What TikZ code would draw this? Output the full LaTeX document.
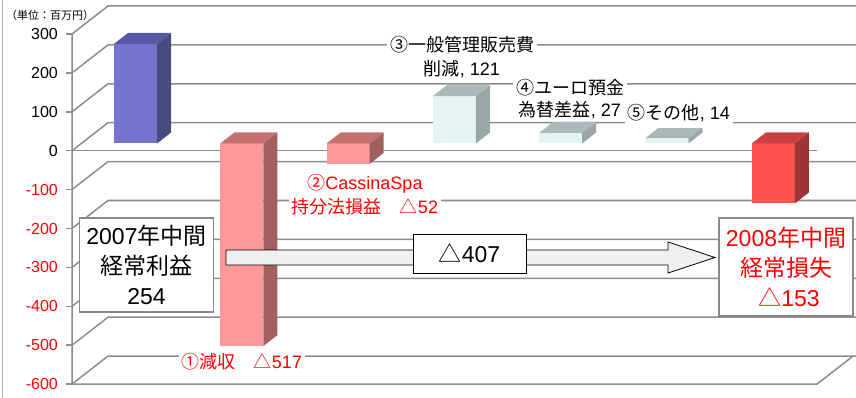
\documentclass[tikz,border=0pt]{standalone}
\usepackage{fontspec}
\setmainfont{Liberation Sans}
\newfontfamily\cjk{Noto Sans CJK JP}
\usetikzlibrary{calc}
\definecolor{gridgray}{HTML}{8C8C8C}
\definecolor{boxgray}{HTML}{8A8A8A}
\definecolor{arrowgray}{HTML}{F0F0F0}
\definecolor{blF}{HTML}{7474CF}
\definecolor{blS}{HTML}{4A4A80}
\definecolor{blT}{HTML}{5757A3}
\definecolor{pkF}{HTML}{FF9999}
\definecolor{pkS}{HTML}{A06060}
\definecolor{pkT}{HTML}{C47070}
\definecolor{cyF}{HTML}{E4F4F4}
\definecolor{cyS}{HTML}{98A8A8}
\definecolor{cyT}{HTML}{ABB9B9}
\definecolor{rdF}{HTML}{FF5050}
\definecolor{rdS}{HTML}{A03333}
\definecolor{rdT}{HTML}{C94040}
\tikzset{
  grid line/.style={draw=gridgray, line width=1.5pt},
  bar label/.style={fill=white, inner xsep=3pt, inner ysep=2pt, align=center},
  total box/.style={draw=boxgray, line width=1.2pt, fill=white, align=center,
    minimum width=134pt, inner sep=0pt, font=\fontsize{23}{30}\selectfont},
  block arrow/.style={draw=black, line width=0.8pt, fill=arrowgray},
}
\begin{document}
\begin{tikzpicture}[x=1pt,y=-1pt]
  \useasboundingbox (0,0) rectangle (856,398);
  \draw[gray!60, line width=1pt] (2,0) -- (2,398);
  % walls and value axis
  \foreach \k in {0,...,9} {
    \pgfmathsetmacro\fy{34+38.9*\k}
    \pgfmathsetmacro\by{\fy-28}
    \pgfmathtruncatemacro\v{300-100*\k}
    \draw[grid line] (72,\fy) -- (108,\by) -- (856,\by);
    \draw[grid line] (66,\fy) -- (72,\fy);
    \ifnum\v<0 \def\tc{red}\else\def\tc{black}\fi
    \node[anchor=east, text=\tc, inner sep=0pt, font=\fontsize{16}{18}\selectfont] (t\k) at (58,\fy) {\v};
  }
  \draw[grid line] (72,34) -- (72,384.1) -- (817,384.1) -- (853,356.1);
  \draw[gridgray, line width=1pt] (72,150.7) -- (817,150.7);
  \node[inner sep=0pt, font=\fontsize{11}{13}\selectfont] (unit) at (50,15) {\cjk （単位：百万円）};
  % bars
  \foreach \i/\lo/\hi/\col in {0/0/254/bl, 1/-517/0/pk, 2/-52/0/pk, 3/0/121/cy,
      4/0/27/cy, 5/0/14/cy, 6/-153/0/rd} {
    \pgfmathsetmacro\xl{114+106.3*\i}
    \pgfmathsetmacro\xr{\xl+43}
    \pgfmathsetmacro\yt{143.5-0.392*\hi}
    \pgfmathsetmacro\yb{143.5-0.392*\lo}
    \fill[fill=\col F] (\xl,\yt) rectangle (\xr,\yb);
    \fill[fill=\col S] (\xr,\yt) -- ({\xr+14},{\yt-11}) -- ({\xr+14},{\yb-11}) -- (\xr,\yb) -- cycle;
    \fill[fill=\col T] (\xl,\yt) -- ({\xl+14},{\yt-11}) -- ({\xr+14},{\yt-11}) -- (\xr,\yt) -- cycle;
  }
  % item labels
  \node[bar label, font=\fontsize{18}{24}\selectfont] (l3) at (462,57)
    {{\cjk ③一般管理販売費}\\{\cjk 削減}, 121};
  \node[bar label, minimum height=30pt, font=\fontsize{18}{22}\selectfont] (l5) at (679,113)
    {{\cjk ⑤その他}, 14};
  \node[bar label, font=\fontsize{18}{22}\selectfont] (l4) at (570,99)
    {{\cjk ④ユーロ預金}\\{\cjk 為替差益}, 27};
  \node[bar label, text=red, font=\fontsize{18}{24}\selectfont] (l2) at (365,195)
    {{\cjk ②}CassinaSpa\\{\cjk 持分法損益　△}52};
  \node[bar label, text=red, font=\fontsize{18}{22}\selectfont] (l1) at (242,362)
    {{\cjk ①減収　△}517};
  % result arrow
  \coordinate (a0) at (226,257.5);
  \coordinate (a1) at (715,257.5);
  \draw[block arrow] (a0) ++(0,-7.5) -- ($(a1)+(-47,-7.5)$) -- ++(0,-8) -- (a1)
    -- ($(a1)+(-47,15.5)$) -- ++(0,-8) -- ($(a0)+(0,7.5)$) -- cycle;
  \node[draw=black, line width=0.8pt, fill=white, minimum width=113pt, minimum height=39pt,
    font=\fontsize{23}{26}\selectfont] (d407) at (469.5,253.5) {{\cjk △}407};
  % totals
  \node[total box, minimum height=94pt] (y07) at (146.5,265)
    {2007{\cjk 年中間}\\{\cjk 経常利益}\\254};
  \node[total box, minimum height=98pt, text=red] (y08) at (786,267)
    {2008{\cjk 年中間}\\{\cjk 経常損失}\\\hspace*{6pt}{\cjk △}153};
\end{tikzpicture}
\end{document}
